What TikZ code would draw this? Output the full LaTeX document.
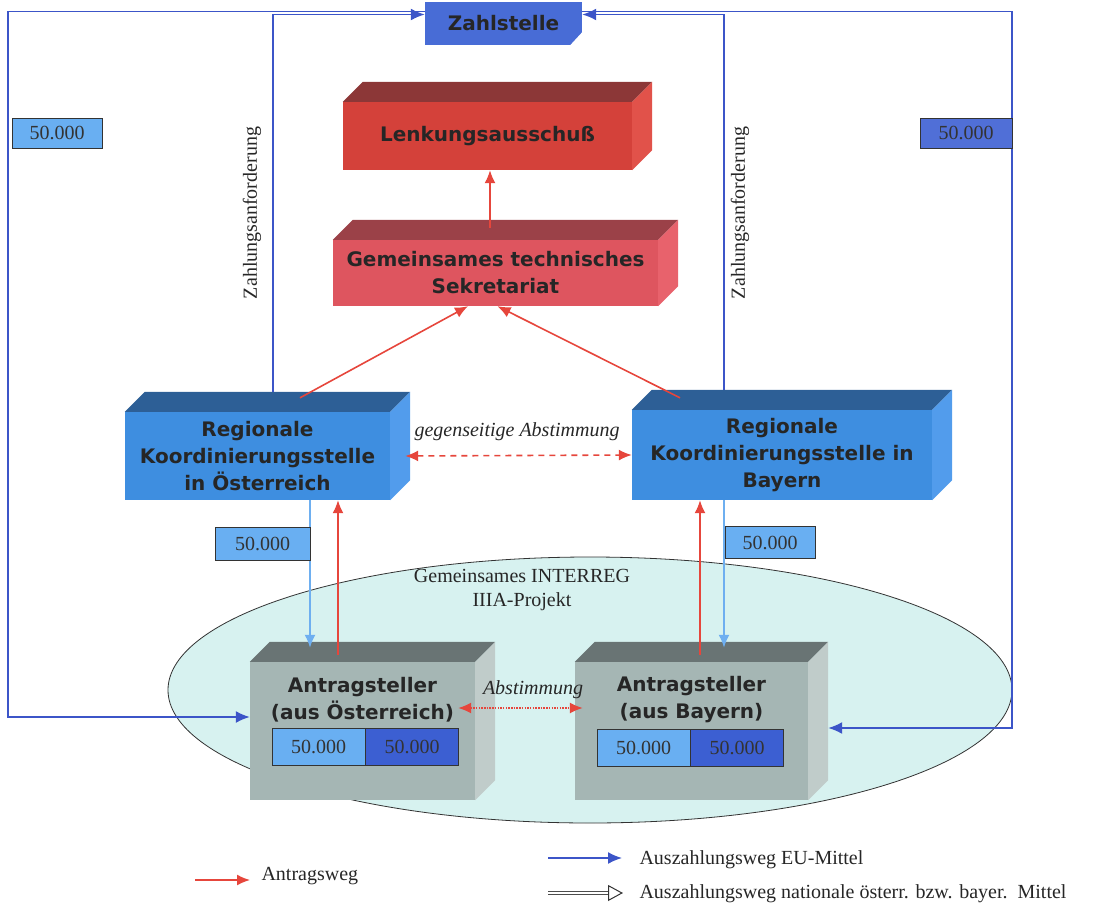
\documentclass[tikz,border=0pt]{standalone}
\usepackage{fontspec}
\setmainfont{Liberation Serif}
\newfontfamily\boxfont{DejaVu Sans}
\usepackage{xcolor}
\usetikzlibrary{arrows.meta,shapes.geometric,positioning,calc}

\definecolor{zahlblau}{RGB}{72,108,214}
\definecolor{eublau}{RGB}{60,85,200}
\definecolor{hellblau}{RGB}{110,175,240}
\definecolor{betraghell}{RGB}{105,175,242}
\definecolor{betragdunkel}{RGB}{60,95,210}
\definecolor{antragrot}{RGB}{230,70,60}
\definecolor{lenkfront}{RGB}{212,65,58}
\definecolor{lenktop}{RGB}{140,55,55}
\definecolor{lenkside}{RGB}{225,82,74}
\definecolor{sekrfront}{RGB}{222,85,95}
\definecolor{sekrtop}{RGB}{155,65,72}
\definecolor{sekrside}{RGB}{232,98,108}
\definecolor{regfront}{RGB}{62,142,224}
\definecolor{regtop}{RGB}{45,95,150}
\definecolor{regside}{RGB}{82,156,236}
\definecolor{grfront}{RGB}{165,182,180}
\definecolor{grtop}{RGB}{105,116,116}
\definecolor{grside}{RGB}{192,204,202}
\definecolor{projekt}{RGB}{215,242,240}

\tikzset{
  quader/.style={rectangle, inner sep=2pt, align=center, text=black!85,
    font=\boxfont\bfseries\fontsize{20}{27}\selectfont},
  betrag/.style={rectangle, draw=black!80, line width=0.6pt, inner sep=0pt,
    minimum width=93pt, minimum height=37pt, text=black!80,
    font=\fontsize{20}{24}\selectfont},
  antrag/.style={draw=antragrot, line width=1.6pt, -{Latex[length=13pt,width=11pt]}},
  euweg/.style={draw=eublau, line width=1.6pt, -{Latex[length=14pt,width=12pt]}},
  natweg/.style={draw=hellblau, line width=1.6pt, -{Latex[length=13pt,width=11pt]}},
  beschrift/.style={text=black!85, font=\fontsize{20}{24}\selectfont},
}

% top and side of a 3d box
\newcommand{\quaderseiten}[3]{%
  \fill[#2] (#1.north west) -- ++(20,-20) -- ($(#1.north east)+(20,-20)$) -- (#1.north east) -- cycle;
  \fill[#3] (#1.north east) -- ++(20,-20) -- ($(#1.south east)+(20,-20)$) -- (#1.south east) -- cycle;
}

\begin{document}
\begin{tikzpicture}[x=1pt,y=-1pt]
    \useasboundingbox (0,0) rectangle (1094,912);

    % Projekt
    \node[ellipse, draw=black!80, line width=0.8pt, fill=projekt, minimum width=844, minimum height=266] (proj) at (590,690) {};
    \node[beschrift, align=center] (projtext) at (522,590) {Gemeinsames INTERREG\\IIIA-Projekt};

    % Zahlstelle
    \node[quader, fill=zahlblau, minimum width=157, minimum height=43] (zs) at (503.5,23.5) {Zahlstelle};
    \fill[white] (zs.south east) -- ++(0,-13) -- ++(-12,13) -- cycle;

    % Lenkungsausschuss and Sekretariat
    \node[quader, fill=lenkfront, minimum width=289, minimum height=68] (lenk) at (487.5,136) {Lenkungsausschuß};
    \quaderseiten{lenk}{lenktop}{lenkside}
    \node[quader, fill=sekrfront, minimum width=325, minimum height=66] (sekr) at (495.5,273) {Gemeinsames technisches\\Sekretariat};
    \quaderseiten{sekr}{sekrtop}{sekrside}

    % Regionale Koordinierungsstellen
    \node[quader, fill=regfront, minimum width=265, minimum height=88] (rkoe) at (257.5,456) {Regionale\\Koordinierungsstelle\\in Österreich};
    \quaderseiten{rkoe}{regtop}{regside}
    \node[quader, fill=regfront, minimum width=300, minimum height=90] (rkby) at (782,455) {Regionale\\Koordinierungsstelle in\\Bayern};
    \quaderseiten{rkby}{regtop}{regside}

    % Antragsteller
    \node[quader, fill=grfront, minimum width=225, minimum height=138] (antoe) at (362.5,731) {};
    \quaderseiten{antoe}{grtop}{grside}
    \node[quader] (antoetext) at (362.5,700) {Antragsteller\\(aus Österreich)};
    \node[betrag, fill=betraghell] (antoe1) at (318.5,747) {50.000};
    \node[betrag, fill=betragdunkel, right=0pt of antoe1] (antoe2) {50.000};

    \node[quader, fill=grfront, minimum width=233, minimum height=138] (antby) at (691.5,731) {};
    \quaderseiten{antby}{grtop}{grside}
    \node[quader] (antbytext) at (691.5,700) {Antragsteller\\(aus Bayern)};
    \node[betrag, fill=betraghell] (antby1) at (643.5,748) {50.000};
    \node[betrag, fill=betragdunkel, right=0pt of antby1] (antby2) {50.000};

    % Antragsweg
    \draw[antrag] ([xshift=-5.5pt,yshift=12pt]sekr.north) -- ([xshift=2.5pt]lenk.south);
    \draw[antrag] ([xshift=42.5pt,yshift=14pt]rkoe.north) -- ([xshift=-27.5pt]sekr.south);
    \draw[antrag] ([xshift=-102pt,yshift=12pt]rkby.north) -- ([xshift=2pt]sekr.south);
    \draw[antrag] ([xshift=-24.5pt,yshift=7pt]antoe.north) -- ([xshift=80.5pt]rkoe.south);
    \draw[antrag] ([xshift=8.5pt,yshift=7pt]antby.north) -- ([xshift=-82pt]rkby.south);

    % Abstimmung
    \draw[antrag, {Latex[length=13pt,width=11pt]}-{Latex[length=13pt,width=11pt]}, dash pattern=on 6pt off 5pt] ([xshift=15pt]rkoe.east) -- (rkby.west);
    \node[beschrift, font=\itshape\fontsize{20}{24}\selectfont] (abst1) at (517,432) {gegenseitige Abstimmung};
    \draw[antrag, line width=1.4pt, {Latex[length=13pt,width=11pt]}-{Latex[length=13pt,width=11pt]}, dash pattern=on 1.5pt off 1.2pt] ([xshift=-17pt,yshift=23pt]antoe.east) -- ([xshift=8pt,yshift=23pt]antby.west);
    \node[beschrift, font=\itshape\fontsize{20}{24}\selectfont] (abst2) at (533,690) {Abstimmung};

    % Zahlungsanforderung
    \draw[euweg] ([xshift=15.5pt,yshift=20pt]rkoe.north) |- ([yshift=9pt]zs.west);
    \draw[euweg] ([xshift=-58pt,yshift=20pt]rkby.north) |- ([yshift=9pt]zs.east);
    \node[beschrift, rotate=90] (zaoe) at (252,213) {Zahlungsanforderung};
    \node[beschrift, rotate=90] (zaby) at (740,213) {Zahlungsanforderung};

    % Auszahlung EU-Mittel
    \coordinate (eckelu) at (8,717);
    \coordinate (eckeru) at (1012,728);
    \draw[euweg] ([yshift=12pt]zs.west) -| (eckelu) -- ([yshift=14pt]antoe.west);
    \draw[euweg] ([yshift=12pt]zs.east) -| (eckeru) -- ([xshift=20pt,yshift=3pt]antby.east);
    \node[betrag, fill=betraghell, minimum width=90, minimum height=30] (euoe) at (57,133) {50.000};
    \node[betrag, fill=betragdunkel!90!white, minimum width=92, minimum height=30] (euby) at (966,133) {50.000};

    % nationale Mittel
    \draw[natweg] ([xshift=52.5pt]rkoe.south) -- ([xshift=-52.5pt,yshift=14pt]antoe.north);
    \draw[natweg] ([xshift=-58pt]rkby.south) -- ([xshift=32.5pt,yshift=14pt]antby.north);
    \node[betrag, fill=betraghell, minimum width=95, minimum height=33] (natoe) at (262.5,543.5) {50.000};
    \node[betrag, fill=betraghell, minimum width=90, minimum height=32] (natby) at (770,542.5) {50.000};

    % Legende
    \coordinate (lrot1) at (195,880);
    \coordinate (lrot2) at (250,880);
    \coordinate (lblau1) at (548,858);
    \coordinate (lblau2) at (622,858);
    \coordinate (lnat1) at (548,893);
    \coordinate (lnatm) at (608,893);
    \coordinate (lnat2) at (623,893);
    \draw[antrag] (lrot1) -- (lrot2);
    \node[beschrift, anchor=west] (lrottext) at (258,876) {Antragsweg};
    \draw[euweg] (lblau1) -- (lblau2);
    \node[beschrift, anchor=west] (lblautext) at (636,860) {Auszahlungsweg EU-Mittel};
    \draw[black!70, line width=1pt, double=white, double distance=2.5pt] (lnat1) -- ([xshift=1pt]lnatm);
    \draw[black!80, line width=1pt, -{Triangle[open,length=15pt,width=16pt]}] (lnatm) -- (lnat2);
    \node[beschrift, anchor=west] (lnattext) at (636,894) {Auszahlungsweg nationale österr. bzw. bayer.\ \ Mittel};
\end{tikzpicture}
\end{document}
